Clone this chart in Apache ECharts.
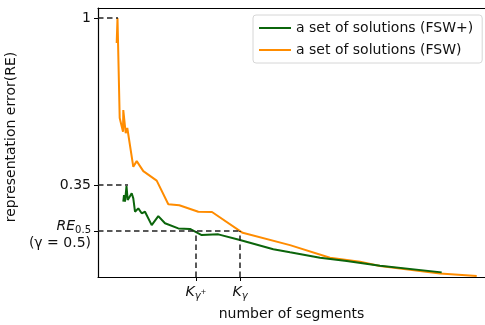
<!DOCTYPE html>
<html>
<head>
<meta charset="utf-8">
<script src="https://cdn.jsdelivr.net/npm/echarts@6/dist/echarts.min.js"></script>
<style>
  html, body { margin: 0; padding: 0; background: #fff; }
  #chart { width: 485px; height: 325px; }
</style>
</head>
<body>
<div id="chart"></div>
<script>
// number of segments / representation error
const fswPlusX = [25.3, 26, 27, 28.5, 29.7, 31.3, 33.7, 35.3, 37, 40.3, 43.7, 47, 53.7, 60.3, 67, 80.3, 92, 103.7, 120.3, 142, 175.3, 192, 222, 248.7, 282, 343.7];
const fswPlusY = [0.285, 0.311, 0.285, 0.346, 0.292, 0.298, 0.318, 0.298, 0.246, 0.259, 0.240, 0.246, 0.194, 0.229, 0.201, 0.181, 0.179, 0.155, 0.158, 0.136, 0.100, 0.088, 0.067, 0.054, 0.036, 0.010];
const fswX = [18.7, 19.5, 21.7, 25, 25.3, 26.3, 27.7, 29.3, 31.3, 35.3, 38.7, 45.3, 58.7, 70.3, 81.3, 100.3, 114, 144.7, 192, 232, 262, 282, 342, 378.7];
const fswY = [0.903, 1.0, 0.611, 0.557, 0.642, 0.638, 0.552, 0.572, 0.572, 0.421, 0.443, 0.404, 0.367, 0.275, 0.271, 0.246, 0.245, 0.164, 0.116, 0.067, 0.051, 0.035, 0.006, -0.004];

const seriesNames = ['a set of solutions (FSW+)', 'a set of solutions (FSW)'];

// reference levels and where the dashed guides stop
const yTicks = [0.171, 0.35, 1];
const yGuideEnds = [142, 30, 20];
const xTicks = [98, 142]; // K_gamma+, K_gamma
const xMin = 0, xMax = 387;
const yMin = -0.008, yMax = 1.039;

const zip = (xs, ys) => xs.map((x, i) => [x, ys[i]]);

const guideStyle = { color: '#222', width: 1.5, type: [5.5, 3.5] };

const guides = [];
yTicks.forEach((v, i) => {
    guides.push([{ coord: [xMin, v] }, { coord: [yGuideEnds[i], v] }]);
});
xTicks.forEach((k) => {
    guides.push([{ coord: [k, yMin] }, { coord: [k, yTicks[0]] }]);
});

const yLabel = (v) => {
    if (v === 1) return '1';
    if (v === 0.35) return '0.35';
    return '{it|RE}{sub|0.5}\n{n|(γ = 0.5)}';
};
const xLabel = (v) => {
    if (v === xTicks[0]) return '{it|K}{sub|γ}{sup|+}';
    return '{it|K}{sub|γ}';
};

const font = 'DejaVu Sans';
const ink = '#111';
const chart = echarts.init(document.getElementById('chart'));
chart.setOption({
    animation: false,
    textStyle: { fontFamily: font },
    grid: { left: 98, right: 0, top: 8, bottom: 48, containLabel: false, outerBoundsMode: 'none' },
    legend: {
        orient: 'vertical',
        left: 253,
        top: 15,
        icon: 'rect',
        itemWidth: 32,
        itemHeight: 2,
        itemGap: 8,
        padding: [6, 9, 6, 6],
        backgroundColor: 'rgba(255,255,255,0.8)',
        borderColor: '#d6d6d6',
        borderWidth: 1,
        borderRadius: 3,
        textStyle: { fontFamily: font, fontSize: 14, color: ink },
        data: seriesNames
    },
    xAxis: [
        {
            type: 'value',
            min: xMin,
            max: xMax,
            name: 'number of segments',
            nameLocation: 'middle',
            nameGap: 30,
            nameTextStyle: { fontFamily: font, fontSize: 14, color: ink },
            axisLine: { show: true, onZero: false, lineStyle: { color: '#000', width: 1.2 } },
            axisTick: { show: true, customValues: xTicks, length: 4, lineStyle: { color: '#000' } },
            axisLabel: {
                customValues: xTicks,
                formatter: xLabel,
                margin: 7,
                color: ink,
                rich: {
                    it: { fontFamily: font, fontSize: 14, fontStyle: 'italic', color: ink, lineHeight: 17, verticalAlign: 'middle' },
                    sub: { fontFamily: font, fontSize: 10, fontStyle: 'italic', color: ink, lineHeight: 17, verticalAlign: 'bottom' },
                    sup: { fontFamily: font, fontSize: 7, color: ink, lineHeight: 17, verticalAlign: 'middle' }
                }
            },
            splitLine: { show: false }
        },
        {
            type: 'value',
            position: 'top',
            min: xMin,
            max: xMax,
            axisLine: { show: true, onZero: false, lineStyle: { color: '#000', width: 1.2 } },
            axisTick: { show: false },
            axisLabel: { show: false },
            splitLine: { show: false }
        }
    ],
    yAxis: {
        type: 'value',
        min: yMin,
        max: yMax,
        name: 'representation error(RE)',
        nameLocation: 'middle',
        nameGap: 73,
        nameTextStyle: { fontFamily: font, fontSize: 14, color: ink, padding: [0, 0, 0, 11] },
        axisLine: { show: true, onZero: false, lineStyle: { color: '#000', width: 1.2 } },
        axisTick: { show: true, customValues: yTicks, length: 4, lineStyle: { color: '#000' } },
        axisLabel: {
            customValues: yTicks,
            formatter: yLabel,
            margin: 7,
            color: ink,
            fontSize: 14,
            align: 'right',
            rich: {
                it: { fontFamily: font, fontSize: 14, fontStyle: 'italic', color: ink, lineHeight: 24, verticalAlign: 'bottom', padding: [0, 0, 2, 0] },
                sub: { fontFamily: font, fontSize: 10, color: ink, lineHeight: 24, verticalAlign: 'bottom' },
                n: { fontFamily: font, fontSize: 14, color: ink, lineHeight: 16 }
            }
        },
        splitLine: { show: false }
    },
    series: [
        {
            name: seriesNames[0],
            type: 'line',
            data: zip(fswPlusX, fswPlusY),
            showSymbol: false,
            lineStyle: { color: '#0b650b', width: 2 },
            itemStyle: { color: '#0b650b' },
            z: 3
        },
        {
            name: seriesNames[1],
            type: 'line',
            data: zip(fswX, fswY),
            showSymbol: false,
            lineStyle: { color: '#ff8c00', width: 2 },
            itemStyle: { color: '#ff8c00' },
            z: 2,
            markLine: {
                silent: true,
                symbol: 'none',
                label: { show: false },
                lineStyle: guideStyle,
                data: guides
            }
        }
    ]
});
</script>
</body>
</html>
